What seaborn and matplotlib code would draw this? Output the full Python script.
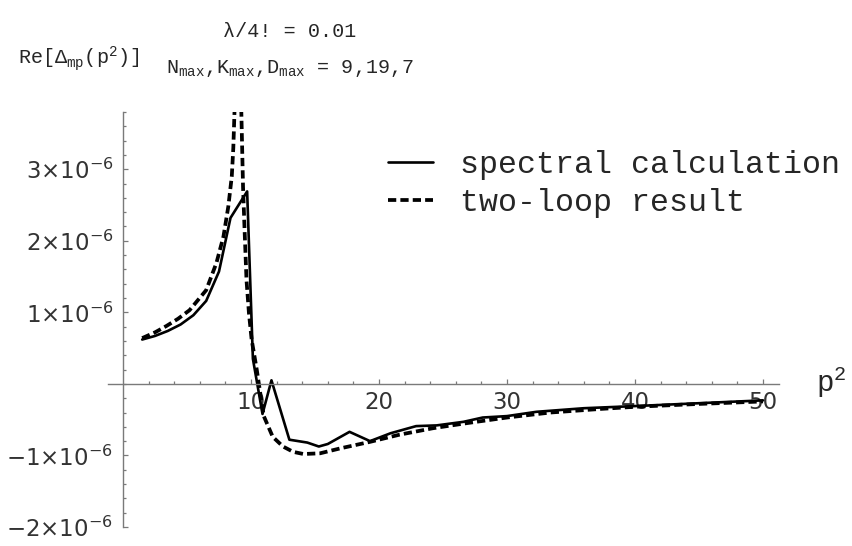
import matplotlib
matplotlib.use("Agg")
import matplotlib.pyplot as plt
import seaborn as sns
import numpy as np
import pandas as pd
from matplotlib.lines import Line2D
from matplotlib.ticker import FixedLocator

# ---------------- data (values in units of 1e-6) ----------------
spec_p2 = [1.5, 2.5, 3.5, 4.5, 5.5, 6.5, 7.5, 8.4, 9.7, 10.15, 10.9, 11.6,
           13.0, 14.4, 15.3, 16.0, 17.7, 19.3, 20.9, 22.9, 24.5, 26.6, 28.1,
           30.0, 32.3, 36.0, 40.0, 45.0, 50.0]
spec_re = [0.62, 0.67, 0.74, 0.83, 0.96, 1.16, 1.57, 2.32, 2.69, 0.35, -0.42, 0.05,
           -0.78, -0.82, -0.875, -0.84, -0.67, -0.80, -0.69, -0.59, -0.58, -0.53, -0.47,
           -0.45, -0.39, -0.34, -0.31, -0.27, -0.23]

loop_left_p2 = [1.5, 2.5, 3.4, 4.3, 5.2, 6.5, 7.3, 7.85, 8.23, 8.5, 8.62, 8.72]
loop_left_re = [0.64, 0.72, 0.81, 0.91, 1.03, 1.31, 1.69, 2.06, 2.48, 2.9, 3.3, 3.85]
loop_right_p2 = [9.24, 9.38, 9.5, 9.65, 9.84, 10.05, 10.45, 10.7, 11.0, 11.7, 12.5,
                 13.3, 14.1, 15.4, 17.0, 19.3, 21.6, 24.2, 26.8, 30.0, 33.4, 37.3,
                 40.0, 45.0, 50.0]
loop_right_re = [3.85, 2.75, 2.15, 1.45, 0.99, 0.62, 0.2, -0.1, -0.45, -0.74, -0.875,
                 -0.95, -0.98, -0.97, -0.9, -0.81, -0.71, -0.62, -0.55, -0.47, -0.40, -0.35,
                 -0.32, -0.28, -0.245]

series_names = ["spectral calculation", "two-loop result"]
x_major = [10, 20, 30, 40, 50]
x_major_labels = ["10", "20", "30", "40", "50"]
y_major = [-2, -1, 1, 2, 3]
y_major_labels = [r"$\mathsf{-2×10^{-6}}$", r"$\mathsf{-1×10^{-6}}$",
                  r"$\mathsf{1×10^{-6}}$", r"$\mathsf{2×10^{-6}}$",
                  r"$\mathsf{3×10^{-6}}$"]
title_line1 = "λ/4! = 0.01"
title_line2 = r"N$_{\mathrm{max}}$,K$_{\mathrm{max}}$,D$_{\mathrm{max}}$ = 9,19,7"
y_label = r"Re[Δ$_{\mathrm{mp}}$(p$^{2}$)]"
x_label = r"p$^{2}$"

# ---------------- styling ----------------
sns.set_style("white")
plt.rcParams["font.family"] = ["Liberation Mono", "DejaVu Sans"]
plt.rcParams["mathtext.fontset"] = "custom"
plt.rcParams["mathtext.rm"] = "Liberation Mono"
plt.rcParams["mathtext.it"] = "Liberation Mono"
plt.rcParams["mathtext.bf"] = "Liberation Mono"
plt.rcParams["mathtext.sf"] = "DejaVu Sans"
plt.rcParams["mathtext.default"] = "rm"

W, H = 852, 546
fig = plt.figure(figsize=(W / 100, H / 100), dpi=100)
ax = fig.add_axes([108 / W, 19 / H, 671 / W, 415 / H])

scale = 1e-6
df_spec = pd.DataFrame({"p2": spec_p2, "re": np.array(spec_re) * scale})
df_left = pd.DataFrame({"p2": loop_left_p2, "re": np.array(loop_left_re) * scale})
df_right = pd.DataFrame({"p2": loop_right_p2, "re": np.array(loop_right_re) * scale})

axis_grey = "#7a7a7a"
dash = (0, (2.2, 1.1))
sns.lineplot(data=df_spec, x="p2", y="re", ax=ax, color="black", lw=1.9,
             estimator=None, sort=False)
for d in (df_left, df_right):
    sns.lineplot(data=d, x="p2", y="re", ax=ax, color="black", lw=2.7,
                 linestyle=dash, estimator=None, sort=False)

ax.set_xlim(-1.17, 51.25)
ax.set_ylim(-2.0e-6, 3.8e-6)

for s in ("top", "right"):
    ax.spines[s].set_visible(False)
ax.spines["left"].set_position(("data", 0))
ax.spines["bottom"].set_position(("data", 0))
for s in ("left", "bottom"):
    ax.spines[s].set_color(axis_grey)
    ax.spines[s].set_linewidth(1.0)

ax.set_xticks(x_major, x_major_labels)
ax.xaxis.set_minor_locator(FixedLocator(np.arange(2, 51, 2)))
ax.set_yticks(np.array(y_major) * scale, y_major_labels)
ax.yaxis.set_minor_locator(FixedLocator(np.arange(-2.0, 3.81, 0.2) * scale))

ax.tick_params(axis="both", which="both", direction="in", color=axis_grey, width=0.9,
               bottom=True, left=True, top=False, right=False)
ax.tick_params(axis="both", which="major", length=3.4)
ax.tick_params(axis="both", which="minor", length=2.0)
ax.tick_params(axis="x", which="major", pad=5, labelsize=16.5, labelcolor="#333333")
ax.tick_params(axis="y", which="major", pad=7, labelsize=16.5, labelcolor="#333333")
for lab in ax.get_xticklabels():
    lab.set_fontfamily("DejaVu Sans")
ax.set_xlabel("")
ax.set_ylabel("")

# legend
handles = [Line2D([], [], color="black", lw=1.9),
           Line2D([], [], color="black", lw=2.7, linestyle=dash)]
ax.legend(handles, series_names, loc="upper left",
          bbox_to_anchor=(388 / W, 1 - 150 / H), bbox_transform=fig.transFigure,
          frameon=False, borderpad=0, borderaxespad=0, fontsize=22.8,
          handlelength=1.42, handletextpad=0.85, labelspacing=0.25)

# titles / labels
fig.text(290 / W, 1 - 37 / H, title_line1, ha="center", va="baseline", fontsize=14.5)
fig.text(290 / W, 1 - 73 / H, title_line2, ha="center", va="baseline", fontsize=14.5)
fig.text(18 / W, 1 - 65 / H, y_label, ha="left", va="baseline", fontsize=14.5)
fig.text(816 / W, 1 - 392 / H, x_label, ha="left", va="baseline", fontsize=21)

fig.savefig("out.png", dpi=100)
